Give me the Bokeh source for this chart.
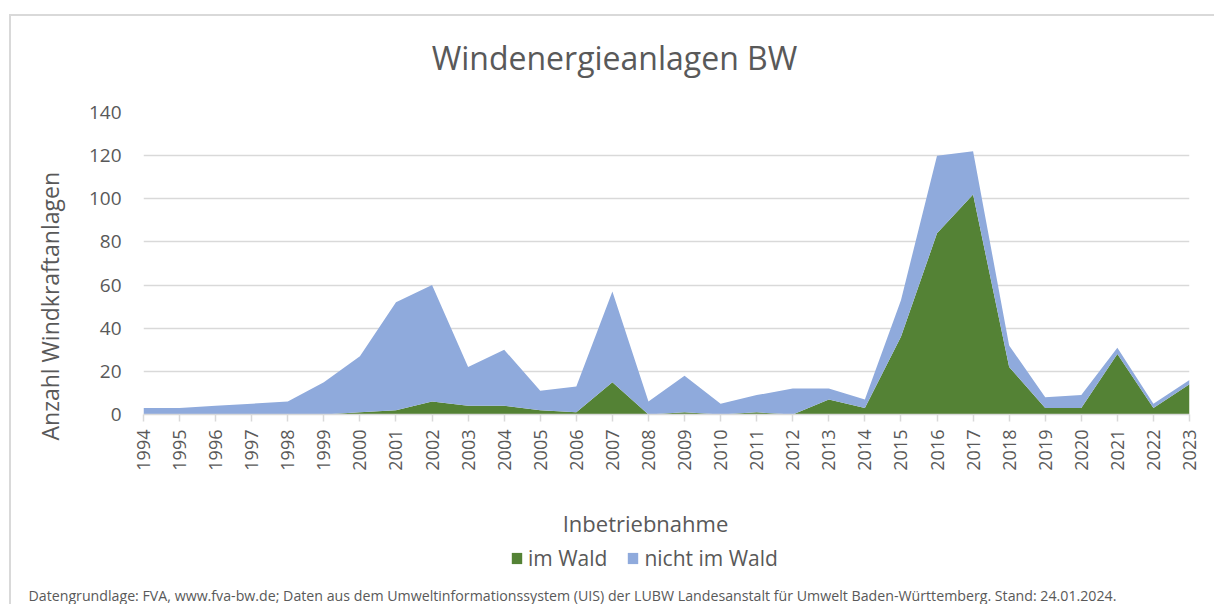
from math import pi
from bokeh.plotting import figure
from bokeh.layouts import column
from bokeh.models import (ColumnDataSource, FixedTicker, Range1d, Legend, LegendItem,
                          Title, Label)
from bokeh.embed import file_html
from bokeh.resources import INLINE

# ---------------- data ----------------
years = list(range(1994, 2024))
im_wald = [0, 0, 0, 0, 0, 0, 1, 2, 6, 4, 4, 2, 1, 15, 0,
           1, 0, 1, 0, 7, 3, 36, 84, 102, 22, 3, 3, 28, 3, 14]
nicht_im_wald = [3, 3, 4, 5, 6, 15, 26, 50, 54, 18, 26, 9, 12, 42, 6,
                 17, 5, 8, 12, 5, 4, 17, 36, 20, 10, 5, 6, 3, 2, 2]
y_ticks = [0, 20, 40, 60, 80, 100, 120, 140]
series_names = ["im Wald", "nicht im Wald"]
title_text = "Windenergieanlagen BW"
y_title = "Anzahl Windkraftanlagen"
x_title = "Inbetriebnahme"
footer_text = ("Datengrundlage: FVA, www.fva-bw.de; Daten aus dem Umweltinformationssystem (UIS) "
               "der LUBW Landesanstalt für Umwelt Baden-Württemberg. Stand: 24.01.2024.")

# ---------------- style ----------------
GREEN = "#548235"
BLUE = "#8faadc"
GRID = "#d9d9d9"
TEXT = "#595959"
FONT = "Open Sans"

OX, OY = 11, 16                       # content origin on the page (margin + border)
W = 1214 - OX
TOP_END, MAIN_END, PAGE_END = 90, 490, 604   # page y where the three strips end
FR_L, FR_R, FR_T, FR_B = 142, 1189, 112, 414  # plot frame edges, page px


def no_align(f):
    try:
        f.frame_align = False
    except Exception:
        pass


def strip(height):
    """A text strip whose data space equals its pixel space (y grows downward)."""
    f = figure(width=W, height=height, x_range=Range1d(0, W), y_range=Range1d(height, 0),
               output_backend="svg", toolbar_location=None, title_location=None,
               x_axis_location=None, y_axis_location=None,
               min_border_left=0, min_border_right=0, min_border_top=0, min_border_bottom=0)
    f.xgrid.visible = False
    f.ygrid.visible = False
    f.outline_line_color = None
    no_align(f)
    return f


# ---------- title strip ----------
H0 = TOP_END - OY
p0 = strip(H0)
p0.add_layout(Label(x=614 - OX, y=57 - OY, text=title_text, text_align="center",
                    text_baseline="middle", text_font=FONT, text_font_size="32px",
                    text_color=TEXT))

# ---------- main plot ----------
H1 = MAIN_END - TOP_END
source = ColumnDataSource(data=dict(year=years, wald=im_wald, nicht=nicht_im_wald))
p = figure(width=W, height=H1, x_range=Range1d(years[0], years[-1]),
           y_range=Range1d(y_ticks[0], y_ticks[-1]),
           output_backend="svg", toolbar_location=None, title_location=None,
           min_border_left=FR_L - OX, min_border_right=W - (FR_R - OX),
           min_border_top=FR_T - TOP_END, min_border_bottom=MAIN_END - FR_B)
p.outline_line_color = None
no_align(p)

renderers = p.varea_stack(["wald", "nicht"], x="year", source=source,
                          color=[GREEN, BLUE])

p.xaxis.ticker = FixedTicker(ticks=years)
p.xaxis.major_label_orientation = pi / 2
p.xaxis.major_label_text_font = FONT
p.xaxis.major_label_text_font_size = "18px"
p.xaxis.major_label_text_color = TEXT
p.xaxis.axis_line_color = GRID
p.xaxis.axis_line_width = 1.5
p.xaxis.major_tick_line_color = GRID
p.xaxis.major_tick_line_width = 1.5
p.xaxis.major_tick_out = 7
p.xaxis.major_tick_in = 0
p.xaxis.minor_tick_line_color = None
p.xaxis.major_label_standoff = 8

p.yaxis.ticker = FixedTicker(ticks=y_ticks)
p.yaxis.major_label_text_font = FONT
p.yaxis.major_label_text_font_size = "19px"
p.yaxis.major_label_text_color = TEXT
p.yaxis.axis_line_color = None
p.yaxis.major_tick_line_color = None
p.yaxis.minor_tick_line_color = None
p.yaxis.major_tick_out = 0
p.yaxis.major_label_standoff = 22

p.xgrid.grid_line_color = None
p.ygrid.grid_line_color = GRID
p.ygrid.grid_line_width = 1.5

p.add_layout(Title(text=y_title, align="left", offset=-26, standoff=40,
                   text_font=FONT, text_font_size="23px", text_font_style="normal",
                   text_color=TEXT), "left")

# ---------- bottom strip: axis title, legend, source note ----------
H2 = PAGE_END - MAIN_END
p2 = strip(H2)
p2.add_layout(Label(x=645 - OX, y=522 - MAIN_END, text=x_title, text_align="center",
                    text_baseline="middle", text_font=FONT, text_font_size="22px",
                    text_color=TEXT))
p2.add_layout(Label(x=28 - OX, y=595 - MAIN_END, text=footer_text, text_align="left",
                    text_baseline="middle", text_font=FONT, text_font_size="14.2px",
                    text_color=TEXT))

# legend proxies: zero-height areas that draw nothing in the strip
proxy_x = [0, 1]
proxy_y = [0, 0]
proxy_wald = p2.varea(x=proxy_x, y1=proxy_y, y2=proxy_y, color=GREEN)
proxy_nicht = p2.varea(x=proxy_x, y1=proxy_y, y2=proxy_y, color=BLUE)
legend = Legend(items=[LegendItem(label=series_names[0], renderers=[proxy_wald]),
                       LegendItem(label=series_names[1], renderers=[proxy_nicht])],
                orientation="horizontal", location=(510 - OX, PAGE_END - 572),
                glyph_width=13, glyph_height=14, label_standoff=5, spacing=19,
                padding=0, margin=0, border_line_color=None, background_fill_alpha=0,
                label_text_font=FONT, label_text_font_size="21px",
                label_text_color=TEXT)
p2.add_layout(legend, "center")

page = column(p0, p, p2, spacing=0, margin=(OY - 2, 0, 0, OX - 2),
              styles={"border-top": "2px solid #d9d9d9", "border-left": "2px solid #d9d9d9"})

open("out.html", "w").write(file_html(page, INLINE))
